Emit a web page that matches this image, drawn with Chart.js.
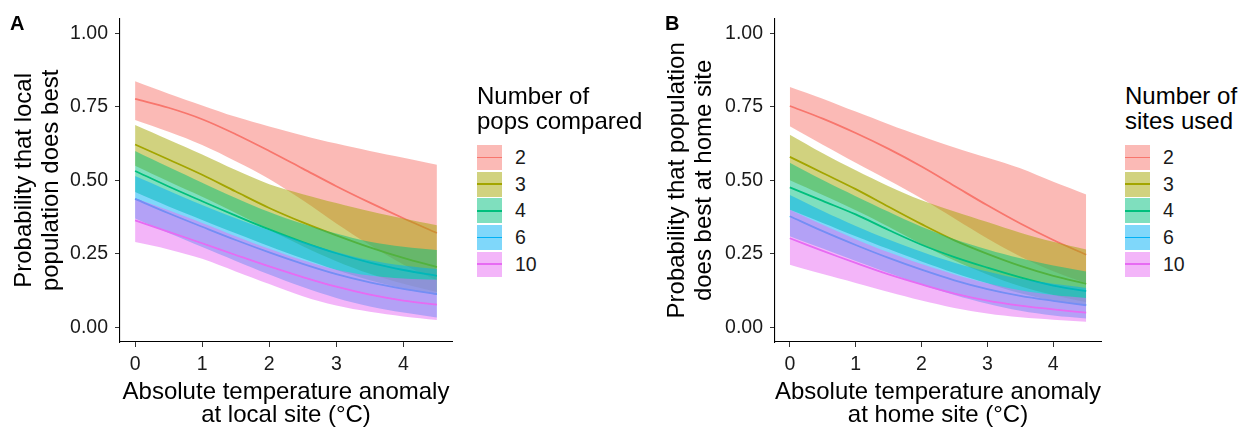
<!DOCTYPE html>
<html>
<head>
<meta charset="utf-8">
<script src="https://cdn.jsdelivr.net/npm/chart.js@4.4.1/dist/chart.umd.min.js"></script>
<style>
  html, body { margin: 0; padding: 0; background: #fff; }
  #wrap { position: relative; width: 1242px; height: 428px; overflow: hidden; font-family: 'Liberation Sans', Arial, sans-serif; }
  canvas { position: absolute; top: 0; }
  .tag { position: absolute; font-weight: bold; font-size: 20px; line-height: 20px; color: #000; }
  .legend { position: absolute; top: 0; }
  .legend .title { position: absolute; top: 84px; left: 0; font-size: 24px; line-height: 24.5px; white-space: nowrap; color: #000; }
  .legend .key { position: absolute; left: 0; width: 25px; height: 25px; }
  .legend .key i { position: absolute; left: 0; right: 0; top: 11.6px; height: 1.8px; }
  .legend .lab { position: absolute; font-size: 19.5px; line-height: 25px; color: #1a1a1a; white-space: nowrap; }
</style>
</head>
<body>
<div id="wrap">
  <canvas id="panelA" width="460" height="428" style="left:0"></canvas>
  <canvas id="panelB" width="469" height="428" style="left:640px"></canvas>
  <div class="tag" style="left:10px; top:13px">A</div>
  <div class="tag" style="left:665px; top:13px">B</div>
  <div class="legend" id="legendA" style="left:477px"></div>
  <div class="legend" id="legendB" style="left:1125px"></div>
</div>
<script>
// x positions (absolute temperature anomaly, °C)
const anomaly = [0, 0.5, 1, 1.5, 2, 2.5, 3, 3.5, 4, 4.5];
const groups = ['2', '3', '4', '6', '10'];
const xTicks = [0, 1, 2, 3, 4];
const yTicks = [0, 0.25, 0.5, 0.75, 1];
const palette = ['#F8766D', '#A3A500', '#00BF7D', '#00B0F6', '#E76BF3'];

// Panel A: local population does best (one row per group)
const fitA = [
  [0.777, 0.747, 0.708, 0.657, 0.600, 0.540, 0.480, 0.424, 0.371, 0.321],
  [0.622, 0.571, 0.519, 0.462, 0.406, 0.357, 0.313, 0.272, 0.236, 0.205],
  [0.532, 0.479, 0.429, 0.380, 0.333, 0.290, 0.252, 0.220, 0.195, 0.175],
  [0.437, 0.388, 0.342, 0.297, 0.255, 0.216, 0.181, 0.153, 0.131, 0.113],
  [0.364, 0.325, 0.286, 0.246, 0.207, 0.171, 0.138, 0.111, 0.091, 0.077]
];
const hiA = [
  [0.837, 0.795, 0.755, 0.716, 0.683, 0.653, 0.625, 0.600, 0.577, 0.553],
  [0.688, 0.638, 0.588, 0.535, 0.487, 0.453, 0.423, 0.395, 0.370, 0.347],
  [0.600, 0.545, 0.492, 0.440, 0.392, 0.352, 0.319, 0.291, 0.274, 0.263],
  [0.515, 0.465, 0.416, 0.371, 0.330, 0.291, 0.256, 0.228, 0.210, 0.198],
  [0.440, 0.398, 0.355, 0.310, 0.267, 0.228, 0.196, 0.176, 0.166, 0.162]
];
const loA = [
  [0.705, 0.665, 0.620, 0.565, 0.505, 0.432, 0.353, 0.280, 0.214, 0.160],
  [0.550, 0.496, 0.444, 0.389, 0.332, 0.276, 0.225, 0.182, 0.148, 0.120],
  [0.460, 0.411, 0.365, 0.320, 0.276, 0.234, 0.195, 0.160, 0.132, 0.110],
  [0.370, 0.321, 0.273, 0.226, 0.180, 0.137, 0.100, 0.071, 0.050, 0.033],
  [0.290, 0.265, 0.233, 0.190, 0.147, 0.106, 0.074, 0.053, 0.037, 0.025]
];

// Panel B: population does best at home site
const fitB = [
  [0.753, 0.710, 0.661, 0.607, 0.547, 0.481, 0.415, 0.353, 0.297, 0.247],
  [0.580, 0.525, 0.470, 0.410, 0.351, 0.296, 0.250, 0.209, 0.175, 0.148],
  [0.476, 0.430, 0.384, 0.331, 0.281, 0.239, 0.203, 0.170, 0.142, 0.123],
  [0.378, 0.327, 0.280, 0.236, 0.196, 0.160, 0.130, 0.107, 0.090, 0.075],
  [0.303, 0.260, 0.219, 0.180, 0.146, 0.115, 0.091, 0.074, 0.061, 0.050]
];
const hiB = [
  [0.818, 0.778, 0.734, 0.691, 0.650, 0.612, 0.577, 0.541, 0.495, 0.452],
  [0.655, 0.592, 0.534, 0.480, 0.432, 0.394, 0.358, 0.322, 0.291, 0.265],
  [0.560, 0.501, 0.446, 0.393, 0.342, 0.300, 0.265, 0.235, 0.210, 0.190],
  [0.450, 0.396, 0.345, 0.299, 0.257, 0.220, 0.190, 0.165, 0.148, 0.134],
  [0.400, 0.349, 0.300, 0.255, 0.215, 0.180, 0.150, 0.126, 0.110, 0.100]
];
const loB = [
  [0.684, 0.621, 0.560, 0.500, 0.438, 0.370, 0.302, 0.241, 0.191, 0.150],
  [0.500, 0.450, 0.398, 0.342, 0.283, 0.227, 0.180, 0.140, 0.110, 0.085],
  [0.400, 0.355, 0.310, 0.266, 0.224, 0.185, 0.150, 0.116, 0.091, 0.075],
  [0.310, 0.268, 0.226, 0.185, 0.145, 0.110, 0.080, 0.056, 0.040, 0.030],
  [0.213, 0.181, 0.151, 0.120, 0.091, 0.066, 0.047, 0.034, 0.026, 0.019]
];

const FONT = "'Liberation Sans', Arial, sans-serif";

function withAlpha(hex, a) {
  const n = parseInt(hex.slice(1), 16);
  return `rgba(${n >> 16}, ${(n >> 8) & 255}, ${n & 255}, ${a})`;
}

const pts = arr => anomaly.map((x, i) => ({ x, y: arr[i] }));

// each group: ribbon then its line, earlier groups underneath later ones
function buildDatasets(fit, lo, hi) {
  const ds = [];
  groups.forEach((g, k) => {
    const base = 100 - 10 * k;
    const loIndex = ds.length;
    ds.push({
      data: pts(lo[k]), borderColor: 'rgba(0,0,0,0)', borderWidth: 0,
      pointRadius: 0, fill: false, order: base - 2
    });
    ds.push({
      data: pts(hi[k]), borderColor: 'rgba(0,0,0,0)', borderWidth: 0,
      pointRadius: 0, backgroundColor: withAlpha(palette[k], 0.5),
      fill: loIndex, order: base
    });
    ds.push({
      data: pts(fit[k]), borderColor: palette[k], borderWidth: 1.8,
      pointRadius: 0, fill: false, order: base - 1
    });
  });
  return ds;
}

function makePanel(id, fit, lo, hi, cfg) {
  const tickFont = { family: FONT, size: 19.5 };
  new Chart(document.getElementById(id), {
    type: 'line',
    data: { datasets: buildDatasets(fit, lo, hi) },
    options: {
      responsive: false,
      animation: false,
      devicePixelRatio: 1,
      elements: { line: { tension: 0.35 } },
      layout: { padding: { left: 0, top: 16, right: 8, bottom: 1.3 } },
      plugins: { legend: { display: false }, tooltip: { enabled: false } },
      scales: {
        x: {
          type: 'linear', min: -0.225, max: 4.725,
          afterBuildTicks: s => { s.ticks = xTicks.map(v => ({ value: v })); },
          afterFit: s => { s.height = 84.7; },
          grid: { display: true, drawOnChartArea: false, drawTicks: true, tickLength: 5, tickColor: '#333', tickWidth: 1 },
          border: { display: true, color: '#000', width: 1.1 },
          ticks: { font: tickFont, color: '#1a1a1a', padding: 6, maxRotation: 0, autoSkip: false, callback: v => String(v) },
          title: { display: true, text: cfg.xTitle, color: '#000', padding: 0,
                   font: { family: FONT, size: 24, lineHeight: '23px' } }
        },
        y: {
          type: 'linear', min: -0.05, max: 1.05,
          afterBuildTicks: s => { s.ticks = yTicks.map(v => ({ value: v })); },
          afterFit: s => { s.width = cfg.yWidth; },
          grid: { display: true, drawOnChartArea: false, drawTicks: true, tickLength: 5, tickColor: '#333', tickWidth: 1 },
          border: { display: true, color: '#000', width: 1.1 },
          ticks: { font: tickFont, color: '#1a1a1a', padding: 7, autoSkip: false, callback: v => v.toFixed(2) },
          title: { display: true, text: cfg.yTitle, color: '#000', padding: { top: cfg.yTitlePad, bottom: 0 },
                   font: { family: FONT, size: 24, lineHeight: '27px' } }
        }
      }
    }
  });
}

makePanel('panelA', fitA, loA, hiA, {
  yWidth: 120, yTitlePad: 11,
  xTitle: ['Absolute temperature anomaly', 'at local site (°C)'],
  yTitle: ['Probability that local', 'population does best']
});
makePanel('panelB', fitB, loB, hiB, {
  yWidth: 135, yTitlePad: 24,
  xTitle: ['Absolute temperature anomaly', 'at home site (°C)'],
  yTitle: ['Probability that population', 'does best at home site']
});

function buildLegend(id, title) {
  const box = document.getElementById(id);
  const t = document.createElement('div');
  t.className = 'title';
  t.innerHTML = title.join('<br>');
  box.appendChild(t);
  groups.forEach((g, k) => {
    const top = 145 + k * 26.67;
    const key = document.createElement('div');
    key.className = 'key';
    key.style.top = top + 'px';
    key.style.background = withAlpha(palette[k], 0.5);
    const line = document.createElement('i');
    line.style.background = palette[k];
    key.appendChild(line);
    box.appendChild(key);
    const lab = document.createElement('div');
    lab.className = 'lab';
    lab.style.top = top + 'px';
    lab.style.left = '38px';
    lab.textContent = g;
    box.appendChild(lab);
  });
}
buildLegend('legendA', ['Number of', 'pops compared']);
buildLegend('legendB', ['Number of', 'sites used']);
</script>
</body>
</html>
